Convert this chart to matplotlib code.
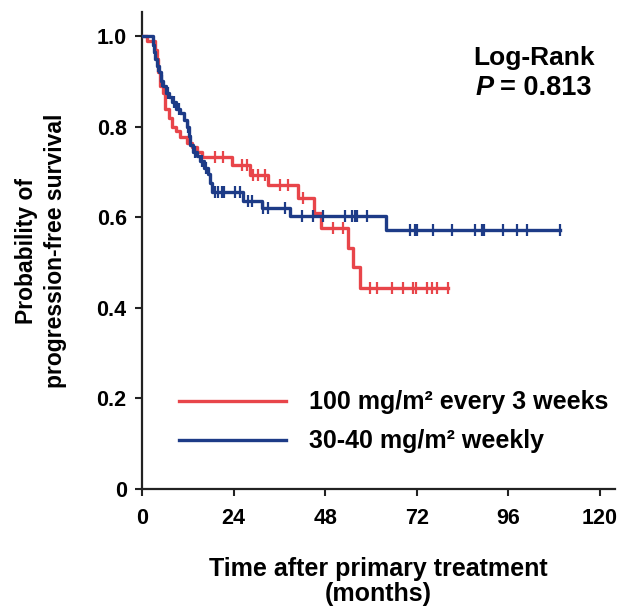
import numpy as np
import matplotlib
matplotlib.use('Agg')
import matplotlib.pyplot as plt

plt.rcParams['font.family'] = ['Liberation Sans', 'DejaVu Sans']
plt.rcParams['font.weight'] = 'bold'

# 100 mg/m2 every 3 weeks (red)
red_times = [1.3, 3.5, 3.9, 4.3, 4.7, 5.5, 6.0, 7.0, 7.9, 9.0, 10.0, 11.8, 13.0, 14.4, 15.6,
             23.6, 28.3, 33.0, 41.0, 45.0, 47.0, 54.0, 55.3, 57.0]
red_surv = [0.99, 0.97, 0.95, 0.92, 0.89, 0.875, 0.84, 0.82, 0.80, 0.79, 0.777, 0.764, 0.755, 0.745, 0.733,
            0.715, 0.693, 0.671, 0.642, 0.61, 0.576, 0.532, 0.49, 0.445]
red_cens = [19.1, 21.2, 26.2, 27.5, 29.1, 30.5, 32.2, 36.2, 38.2, 42.2, 50.0, 52.7,
            59.7, 61.6, 65.5, 68.4, 71.0, 71.8, 74.7, 76.0, 77.3, 80.2]

# 30-40 mg/m2 weekly (blue)
blue_times = [2.9, 3.2, 3.5, 3.9, 4.4, 5.0, 5.6, 6.3, 7.0, 7.9, 8.8, 10.0, 11.0, 11.8, 12.2, 12.6,
              13.4, 14.3, 15.2, 16.2, 17.3, 17.8, 18.3, 26.5, 31.4, 38.8, 64.0]
blue_surv = [0.98, 0.965, 0.95, 0.935, 0.92, 0.90, 0.89, 0.875, 0.865, 0.855, 0.84, 0.83, 0.815, 0.80, 0.78, 0.76,
             0.745, 0.735, 0.725, 0.71, 0.695, 0.675, 0.655, 0.635, 0.62, 0.603, 0.572]
blue_cens = [4.1, 5.3, 6.8, 8.4, 9.6, 12.0, 13.8, 15.6, 16.8, 19.0, 20.0, 21.0, 21.5, 24.4, 25.7,
             27.8, 28.8, 31.7, 33.0, 37.5, 41.9, 44.8, 47.4, 53.2, 55.0, 55.8, 56.3, 58.9,
             70.2, 71.5, 72.0, 76.2, 81.2, 87.2, 89.1, 89.6, 94.6, 98.2, 100.9, 109.5]

labels = ['100 mg/m\u00b2 every 3 weeks', '30-40 mg/m\u00b2 weekly']
colors = ['#e8454a', '#1d3b87']
xticks = [0, 24, 48, 72, 96, 120]
yticks = [0, 0.2, 0.4, 0.6, 0.8, 1.0]
yticklabels = ['0', '0.2', '0.4', '0.6', '0.8', '1.0']


def km_curve(ax, times, surv, cens, color, label):
    t = np.concatenate([[0], times, [max(cens)]])
    s = np.concatenate([[1.0], surv, [surv[-1]]])
    ax.step(t, s, where='post', color=color, lw=2.4, label=label, zorder=3)
    idx = np.searchsorted(times, cens, side='right')
    cs = np.concatenate([[1.0], surv])[idx]
    ax.plot(cens, cs, ls='none', marker='|', ms=8, mew=1.6, color=color, zorder=4)


fig = plt.figure(figsize=(6.21, 6.09), dpi=100)
ax = fig.add_axes([0.2287, 0.197, 0.762, 0.783])

km_curve(ax, red_times, red_surv, red_cens, colors[0], labels[0])
km_curve(ax, blue_times, blue_surv, blue_cens, colors[1], labels[1])

ax.set_xlim(0, 124)
ax.set_ylim(0, 1.053)
ax.spines['top'].set_visible(False)
ax.spines['right'].set_visible(False)
for sp in ['left', 'bottom']:
    ax.spines[sp].set_linewidth(1.6)
    ax.spines[sp].set_color('#222222')

ax.set_xticks(xticks)
ax.set_yticks(yticks)
ax.set_yticklabels(yticklabels)
ax.tick_params(axis='both', direction='out', length=5, width=1.5, labelsize=15.5, colors='#222222')
ax.tick_params(axis='x', pad=9)
ax.tick_params(axis='y', pad=6)
for lab in ax.get_xticklabels() + ax.get_yticklabels():
    lab.set_fontweight('bold')
    lab.set_color('black')

ax.set_xlabel('Time after primary treatment\n(months)', fontsize=18, fontweight='bold', labelpad=20,
              linespacing=1.05)
ax.set_ylabel('Probability of\nprogression-free survival', fontsize=16.5, fontweight='bold', labelpad=21,
              linespacing=1.35)

leg = ax.legend(loc='lower left', bbox_to_anchor=(0.078, 0.075), frameon=False, fontsize=18,
                handlelength=4.3, handletextpad=0.9, labelspacing=0.6, borderpad=0, borderaxespad=0)
for line in leg.get_lines():
    line.set_linewidth(2.4)

ax.text(0.829, 0.904, 'Log-Rank', transform=ax.transAxes, fontsize=19, fontweight='bold',
        ha='center', va='center')
ax.text(0.744, 0.841, 'P', transform=ax.transAxes, fontsize=19.5, fontweight='bold', style='italic',
        ha='right', va='center')
ax.text(0.757, 0.841, '= 0.813', transform=ax.transAxes, fontsize=19.5, fontweight='bold',
        ha='left', va='center')

fig.savefig('out.png', dpi=100)
